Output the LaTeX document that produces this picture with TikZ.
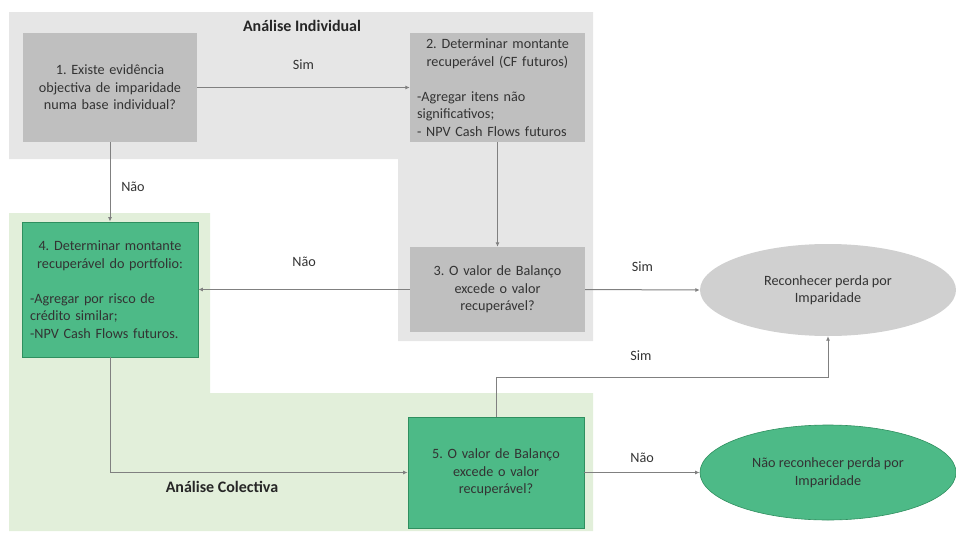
\documentclass[tikz,border=0pt]{standalone}
\usepackage{fontspec}
\setmainfont{Carlito}
\usetikzlibrary{arrows.meta,shapes.geometric}
\frenchspacing

\definecolor{indivband}{HTML}{E6E6E6}
\definecolor{colecband}{HTML}{E2EFDA}
\definecolor{boxgray}{HTML}{BFBFBF}
\definecolor{ovalgray}{HTML}{D0D0D0}
\definecolor{boxgreen}{HTML}{4DBA87}
\definecolor{edgegreen}{HTML}{2F8F5F}
\definecolor{linegray}{HTML}{808080}
\definecolor{txt}{HTML}{333333}

\begin{document}
\begin{tikzpicture}[x=1pt,y=-1pt,
  every node/.style={font=\fontsize{14.2}{17.5}\selectfont, text=txt},
  grayproc/.style={rectangle, fill=boxgray, inner sep=0pt},
  greenproc/.style={rectangle, fill=boxgreen, draw=edgegreen, line width=0.8pt, inner sep=0pt},
  grayoval/.style={ellipse, fill=ovalgray, inner sep=0pt, minimum width=256pt, minimum height=92pt, align=center},
  greenoval/.style={ellipse, fill=boxgreen, draw=edgegreen, line width=0.6pt, inner sep=0pt, minimum width=256pt, minimum height=95pt, align=center},
  conn/.style={draw=linegray, line width=1pt, -{Latex[length=4.5pt,width=4pt]}},
  lbl/.style={inner sep=1pt},
  zonetitle/.style={font=\fontsize{16}{19}\selectfont\bfseries, text=black!85}
]
\useasboundingbox (0,0) rectangle (956,533);

% background zones
\fill[indivband] (9,12) -- (593,12) -- (593,341) -- (398,341) -- (398,159) -- (9,159) -- cycle;
\fill[colecband] (9,213) -- (210,213) -- (210,393) -- (593,393) -- (593,531) -- (9,531) -- cycle;

\node[zonetitle] (tind) at (302,26) {Análise Individual};
\node[zonetitle] (tcol) at (222,487) {Análise Colectiva};

% process boxes
\node[grayproc, minimum width=174pt, minimum height=109pt, text width=162pt, align=center] (q1) at (110,87.5)
  {1. Existe evidência\\objectiva de imparidade\\numa base individual?};

\node[grayproc, minimum width=175pt, minimum height=109pt, text width=161pt] (q2) at (497.5,87.5)
  {{\centering 2. Determinar montante\\recuperável (CF futuros)\par}\vspace{17.5pt}%
   {\raggedright -Agregar itens não\\significativos;\\- NPV Cash Flows futuros\par}};

\node[grayproc, minimum width=175pt, minimum height=85pt, text width=162pt, align=center] (q3) at (497.5,289.5)
  {3. O valor de Balanço\\excede o valor\\recuperável?};

\node[greenproc, minimum width=176pt, minimum height=135pt, text width=160pt] (q4) at (110,289.5)
  {{\centering 4. Determinar montante\\recuperável do portfolio:\par}\vspace{17.5pt}%
   {\raggedright -Agregar por risco de\\crédito similar;\\-NPV Cash Flows futuros.\par}};

\node[greenproc, minimum width=176pt, minimum height=111pt, text width=162pt, align=center] (q5) at (496,472.5)
  {5. O valor de Balanço\\excede o valor\\recuperável?};

% outcomes
\node[grayoval] (r1) at (828,290) {Reconhecer perda por\\Imparidade};
\node[greenoval] (r2) at (828,472.5) {Não reconhecer perda por\\Imparidade};

\coordinate (turn) at (496,377);

% connectors
\draw[conn] (q1) -- node[lbl, midway, yshift=22.5pt] {Sim} (q2);
\draw[conn] (q1) -- node[lbl, midway, xshift=23pt, yshift=-5pt] {Não} (q4);
\draw[conn] (q2) -- (q3);
\draw[conn] (q3) -- node[lbl, midway, yshift=28pt] {Não} (q4);
\draw[conn] (q3.east) -- node[lbl, midway, yshift=23pt] {Sim} (r1.west);
\draw[conn] (q4.south) |- (q5.west);
\draw[conn] (q5.north) -- (turn) -| node[lbl, pos=0.25, xshift=-21pt, yshift=21pt] {Sim} (r1.south);
\draw[conn] (q5.east) -- node[lbl, midway, yshift=15pt] {Não} (r2.west);
\end{tikzpicture}
\end{document}
